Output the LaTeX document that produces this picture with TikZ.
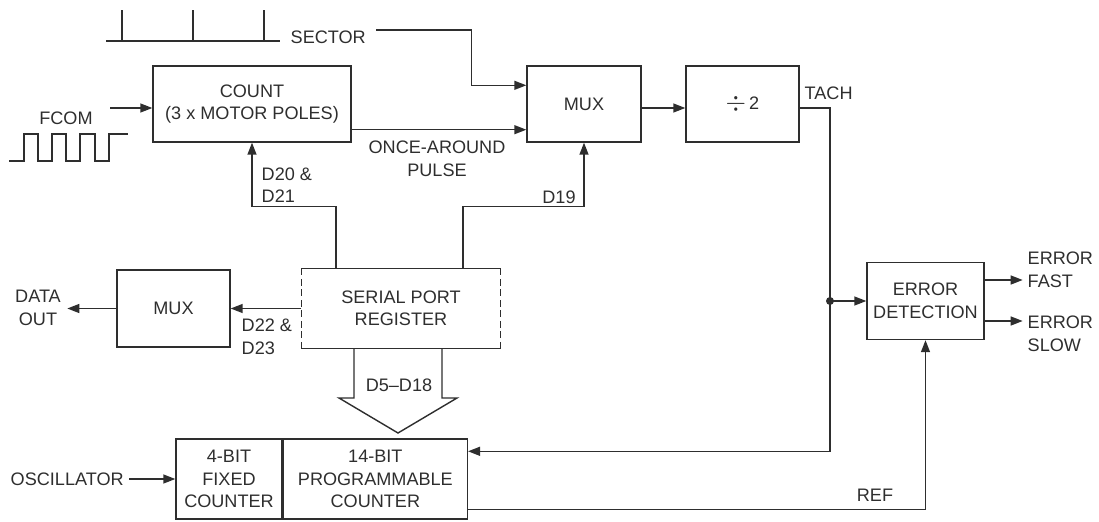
\documentclass[tikz,border=0pt]{standalone}
\usepackage{fontspec}
\setmainfont{Liberation Sans}
\usetikzlibrary{positioning,arrows.meta,calc}

\begin{document}
\begin{tikzpicture}[
  x=0.02cm, y=-0.02cm,
  font=\fontsize{10.3}{12.8}\selectfont,
  color=black!82, line width=0.8pt,
  blk/.style={draw, inner sep=0pt, align=center, minimum height=1.52cm},
  lbl/.style={inner sep=0pt, align=center},
  arr/.style={-{Triangle[length=0.24cm,width=0.18cm]}},
  dsh/.style={dash pattern=on 0.14cm off 0.07cm}
]
\useasboundingbox (0,0) rectangle (1099,521);

\node[blk, minimum width=3.96cm] (count) at (252,104) {COUNT\\(3 x MOTOR POLES)};
\node[blk, minimum width=2.28cm] (mux) at (584,104) {MUX};
\node[blk, minimum width=2.26cm] (div) at (742.5,104) {\raisebox{-0.15ex}{\scalebox{1.5}{$\div$}}\,2};
\node[blk, draw=none, minimum width=3.96cm, minimum height=1.58cm] (spr) at (401,308.5) {SERIAL PORT\\REGISTER};
\node[blk, minimum width=2.26cm, minimum height=1.54cm] (dmux) at (173.5,308.5) {MUX};
\node[blk, minimum width=2.12cm, minimum height=1.6cm] (fixed) at (229,479) {4-BIT\\FIXED\\COUNTER};
\node[blk, minimum width=3.68cm, minimum height=1.6cm, right=0pt of fixed] (prog) {14-BIT\\PROGRAMMABLE\\COUNTER};
\node[blk, minimum width=2.34cm, minimum height=1.54cm] (err) at (925.5,301) {ERROR\\DETECTION};

\draw (spr.north west) -- (spr.north east);
\draw (spr.south west) -- (spr.south east);
\draw[dsh] (spr.north west) -- (spr.south west);
\draw[dsh] (spr.north east) -- (spr.south east);

\node[lbl, anchor=west] (seclbl) at (290,37) {SECTOR};
\node[lbl] (fcomlbl) at (66,118) {FCOM};
\node[lbl] (oncelbl) at (437,159) {ONCE-AROUND\\PULSE};
\node[lbl, anchor=west] (tachlbl) at (804,93) {TACH};
\node[lbl] (d19lbl) at (559,197) {D19};
\node[lbl, anchor=west, align=left] (d20lbl) at (261,185) {D20 \&\\D21};
\node[lbl, anchor=west, align=left] (d22lbl) at (241,337) {D22 \&\\D23};
\node[lbl] (doutlbl) at (38,308) {DATA\\OUT};
\node[lbl, anchor=west] (osclbl) at (10,479) {OSCILLATOR};
\node[lbl] (reflbl) at (875,495) {REF};
\node[lbl, anchor=west, align=left] (fastlbl) at (1027,270) {ERROR\\FAST};
\node[lbl, anchor=west, align=left] (slowlbl) at (1027,334) {ERROR\\SLOW};
\node[lbl] (buslbl) at (399,385) {D5--D18};

% waveforms
\draw (106,41) -- (280,41);
\foreach \x in {122,193,264}
  \draw (\x,41) -- (\x,10);
\draw (9,161) -- (24,161) -- (24,134) -- (38,134) -- (38,161) -- (52,161) -- (52,134) -- (66,134)
  -- (66,161) -- (80,161) -- (80,134) -- (95,134) -- (95,161) -- (109,161) -- (109,134) -- (128,134);

\coordinate (tachy) at (0,108);
\coordinate (fcomin) at (110,108);
\coordinate (secout) at (376,30);
\coordinate (tachx) at (830,108);
\coordinate (oscout) at (129,479);
\coordinate (split) at (tachx |- err.west);

\draw[arr] (fcomin) -- (fcomin -| count.west);
\draw[arr] (secout) -| ($(mux.north west)+(-55,20)$) -- ($(mux.north west)+(0,20)$);
\draw[arr] ($(count.south east)+(0,-13)$) -- ($(mux.south west)+(0,-13)$);
\draw[arr] (mux.east |- tachy) -- (div.west |- tachy);
\draw[arr] (div.east |- tachy) -- (tachx) |- ($(prog.north east)+(0,13)$);
\fill (split) circle[radius=0.08cm];
\draw[arr] (split) -- (err.west);
\draw[arr] ($(prog.south east)+(0,-10)$) -| (err.south);
\draw[arr] ($(err.east)+(0,-21)$) -- ++(38,0);
\draw[arr] ($(err.east)+(0,20)$) -- ++(38,0);
\draw[arr] ($(spr.north)+(62,0)$) -- ++(0,-62) -| (mux.south);
\draw[arr] ($(spr.north)+(-65,0)$) -- ++(0,-62) -| (count.south);
\draw[arr] (spr.west) -- (dmux.east);
\draw[arr] (dmux.west) -- ++(-49,0);
\draw[arr] (oscout) -- (fixed.west);

% bus arrow
\draw (354,348) -- (354,398) -- (339,398) -- (398,433) -- (457,398) -- (442,398) -- (442,348);
\end{tikzpicture}
\end{document}
